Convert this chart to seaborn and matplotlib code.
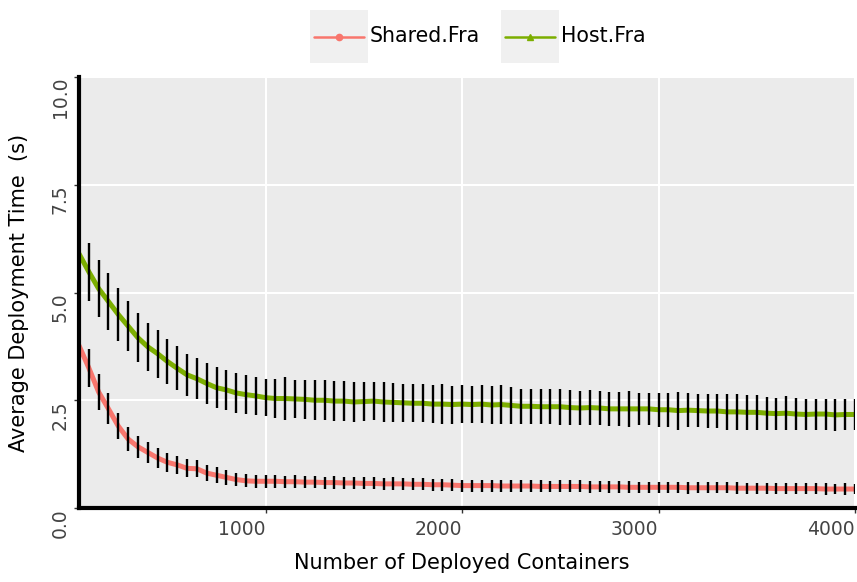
import matplotlib
matplotlib.use("Agg")
import matplotlib.pyplot as plt
import seaborn as sns
import pandas as pd
from matplotlib.legend_handler import HandlerBase
from matplotlib.patches import Rectangle
from matplotlib.lines import Line2D

# ---------------- data ----------------
containers = list(range(50, 4001, 50))

shared_mean = [3.77, 3.25, 2.69, 2.30, 1.90, 1.60, 1.42, 1.29, 1.16, 1.06,
               1.00, 0.92, 0.91, 0.81, 0.76, 0.71, 0.66, 0.63, 0.62, 0.62,
               0.62, 0.61, 0.61, 0.60, 0.60, 0.59, 0.59, 0.58, 0.58, 0.57,
               0.57, 0.56, 0.56, 0.56, 0.55, 0.55, 0.54, 0.54, 0.53, 0.52,
               0.52, 0.52, 0.52, 0.51, 0.51, 0.51, 0.51, 0.50, 0.50, 0.50,
               0.50, 0.50, 0.49, 0.49, 0.49, 0.49, 0.48, 0.48, 0.48, 0.48,
               0.48, 0.48, 0.47, 0.47, 0.47, 0.47, 0.47, 0.46, 0.46, 0.46,
               0.46, 0.45, 0.45, 0.45, 0.45, 0.45, 0.44, 0.44, 0.44, 0.44]
shared_err = [0.47, 0.45, 0.41, 0.36, 0.31, 0.27, 0.25, 0.24, 0.24, 0.22,
              0.20, 0.21, 0.20, 0.18, 0.19, 0.18, 0.16, 0.15, 0.15, 0.15,
              0.15, 0.14, 0.15, 0.14, 0.14, 0.14, 0.15, 0.14, 0.14, 0.14,
              0.14, 0.14, 0.15, 0.14, 0.14, 0.14, 0.14, 0.14, 0.14, 0.14,
              0.14, 0.14, 0.14, 0.15, 0.14, 0.14, 0.14, 0.14, 0.13, 0.14,
              0.14, 0.14, 0.14, 0.13, 0.14, 0.14, 0.14, 0.13, 0.13, 0.13,
              0.13, 0.13, 0.14, 0.13, 0.13, 0.13, 0.13, 0.14, 0.13, 0.13,
              0.13, 0.13, 0.12, 0.13, 0.13, 0.12, 0.13, 0.12, 0.13, 0.12]

host_mean = [5.90, 5.48, 5.09, 4.79, 4.49, 4.22, 3.95, 3.74, 3.58, 3.40,
             3.24, 3.09, 3.00, 2.89, 2.79, 2.74, 2.67, 2.63, 2.60, 2.56,
             2.54, 2.54, 2.53, 2.52, 2.50, 2.50, 2.48, 2.48, 2.46, 2.47,
             2.48, 2.46, 2.45, 2.44, 2.43, 2.43, 2.41, 2.41, 2.40, 2.41,
             2.40, 2.41, 2.39, 2.40, 2.38, 2.36, 2.36, 2.35, 2.35, 2.35,
             2.33, 2.32, 2.33, 2.32, 2.30, 2.30, 2.30, 2.30, 2.30, 2.28,
             2.28, 2.26, 2.27, 2.26, 2.25, 2.25, 2.23, 2.23, 2.22, 2.22,
             2.20, 2.19, 2.20, 2.18, 2.17, 2.18, 2.18, 2.16, 2.17, 2.17]
host_err = [0.70, 0.68, 0.67, 0.66, 0.61, 0.58, 0.57, 0.55, 0.56, 0.53,
            0.51, 0.49, 0.48, 0.47, 0.48, 0.47, 0.46, 0.46, 0.44, 0.43,
            0.46, 0.49, 0.45, 0.46, 0.46, 0.46, 0.46, 0.46, 0.46, 0.45,
            0.44, 0.46, 0.45, 0.44, 0.44, 0.44, 0.44, 0.46, 0.44, 0.44,
            0.42, 0.44, 0.43, 0.45, 0.42, 0.41, 0.41, 0.41, 0.40, 0.42,
            0.41, 0.40, 0.41, 0.40, 0.40, 0.40, 0.42, 0.37, 0.37, 0.39,
            0.39, 0.44, 0.40, 0.39, 0.39, 0.39, 0.41, 0.41, 0.40, 0.40,
            0.38, 0.37, 0.39, 0.38, 0.37, 0.36, 0.36, 0.37, 0.37, 0.37]

series_names = ["Shared.Fra", "Host.Fra"]
series_colors = ["#F8766D", "#7CAE00"]
series_markers = ["o", "^"]
y_ticks = [0.0, 2.5, 5.0, 7.5, 10.0]
y_tick_labels = ["0.0", "2.5", "5.0", "7.5", "10.0"]
x_ticks = [1000, 2000, 3000, 4000]

df = pd.DataFrame({
    "containers": containers * 2,
    "time": shared_mean + host_mean,
    "err": shared_err + host_err,
    "series": [series_names[0]] * len(containers) + [series_names[1]] * len(containers),
})

# ---------------- plot ----------------
sns.set_theme(style="darkgrid")
plt.rcParams["font.family"] = ["DejaVu Sans"]

W, H = 857, 582
fig = plt.figure(figsize=(W / 100, H / 100), dpi=100)
fig.patch.set_facecolor("white")
ax = fig.add_axes([79 / W, 1 - 508 / H, (855 - 79) / W, (508 - 77) / H])
ax.set_facecolor("#EBEBEB")

sns.lineplot(data=df, x="containers", y="time", hue="series",
             palette=dict(zip(series_names, series_colors)),
             linewidth=3.6, legend=False, ax=ax, zorder=2, errorbar=None)

for name in series_names:
    sub = df[df["series"] == name]
    ax.errorbar(sub["containers"], sub["time"], yerr=sub["err"], fmt="none",
                ecolor="black", elinewidth=1.7, capsize=0, zorder=3)

ax.set_xlim(50, 4000)
ax.set_ylim(0, 10)
ax.set_xticks(x_ticks)
ax.set_xticklabels([str(t) for t in x_ticks], ha="right")
ax.set_yticks(y_ticks)
ax.set_yticklabels(y_tick_labels, rotation=90, va="top")

ax.grid(True, color="white", linewidth=1.5)
ax.minorticks_off()
for s in ["top", "right"]:
    ax.spines[s].set_visible(False)
for s in ["left", "bottom"]:
    ax.spines[s].set_visible(True)
    ax.spines[s].set_color("black")
    ax.spines[s].set_linewidth(3.0)
    ax.spines[s].set_zorder(5)

ax.tick_params(axis="both", which="major", direction="out", length=3.5, width=1.0,
               color="#333333", labelcolor="#444444", labelsize=13.5,
               bottom=True, left=True, pad=3)
ax.tick_params(axis="x", pad=5)

ax.set_xlabel("Number of Deployed Containers", fontsize=15, color="black")
ax.xaxis.set_label_coords((462 - 79) / 776, (508 - 553) / 431)
ax.set_ylabel("Average Deployment Time  (s)", fontsize=15, color="black")
ax.yaxis.set_label_coords((29 - 79) / 776, 0.5)


# ---------------- legend with grey key boxes ----------------
class KeyHandler(HandlerBase):
    def create_artists(self, legend, orig_handle, xdescent, ydescent,
                       width, height, fontsize, trans):
        x0, y0 = -xdescent, -ydescent
        rect = Rectangle((x0, y0), width, height, facecolor="#F0F0F0",
                         edgecolor="none", transform=trans)
        pad = width * 0.07
        yc = y0 + height / 2
        line = Line2D([x0 + pad, x0 + width - pad], [yc, yc],
                      color=orig_handle.get_color(), lw=1.8, transform=trans)
        mk = Line2D([x0 + width / 2], [yc], color=orig_handle.get_color(),
                    marker=orig_handle.get_marker(), markersize=4.5, lw=0,
                    transform=trans)
        return [rect, line, mk]


handles = [Line2D([], [], color=c, marker=m) for c, m in zip(series_colors, series_markers)]
fig.legend(handles, series_names, handler_map={Line2D: KeyHandler()},
           loc="upper left", bbox_to_anchor=(310 / W, 1 - 10 / H),
           bbox_transform=fig.transFigure, ncol=2, frameon=False,
           fontsize=14.8, labelcolor="black", borderpad=0, borderaxespad=0,
           handlelength=2.8, handleheight=3.6, handletextpad=0.1,
           columnspacing=1.05)

fig.savefig("out.png", dpi=100)
